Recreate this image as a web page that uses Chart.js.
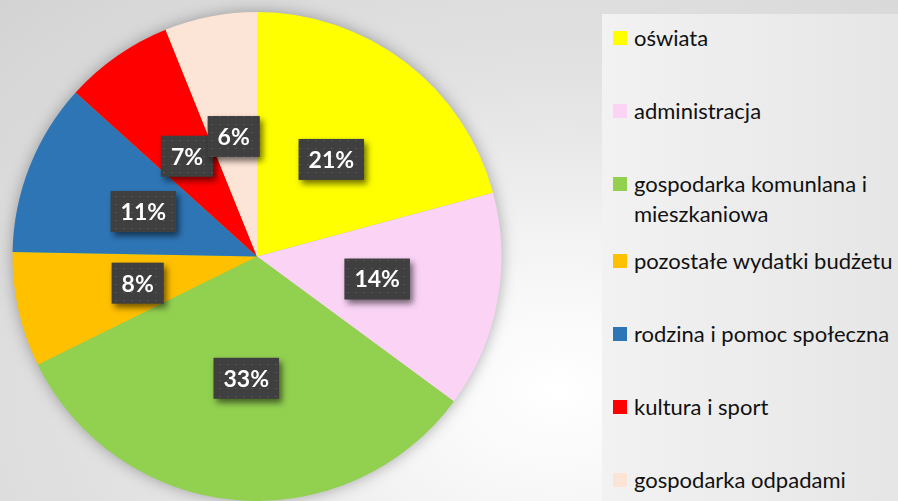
<!DOCTYPE html>
<html>
<head>
<meta charset="utf-8">
<script src="https://cdn.jsdelivr.net/npm/chart.js@4"></script>
<style>
  html, body { margin: 0; padding: 0; }
  body {
    width: 898px; height: 501px; overflow: hidden;
    background: radial-gradient(ellipse at 62% 78%, #ffffff 0%, #f6f6f6 22%, #e3e3e3 55%, #d3d3d3 100%);
  }
  #wrap { position: relative; width: 898px; height: 501px; }
  #myChart { position: absolute; left: 0; top: 0; }
  #panel {
    position: absolute; left: 602px; top: 14px; width: 296px; height: 487px;
    background: linear-gradient(to right, #f2f2f2, #e6e6e6);
  }
  #legend {
    position: absolute; left: 613px; top: 23px; width: 285px;
    font-family: Lato, sans-serif; font-size: 22px; color: #111;
  }
  .item { display: flex; align-items: flex-start; line-height: 30px; }
  .item + .item { margin-top: 43px; }
  .item:nth-child(4) { margin-top: 17px; }
  .box { width: 14px; height: 14px; margin-top: 8px; margin-right: 7px; flex: none; }
  .txt { width: 264px; white-space: normal; }
</style>
</head>
<body>
<div id="wrap">
  <canvas id="myChart" width="898" height="501"></canvas>
  <div id="panel"></div>
  <div id="legend"></div>
</div>
<script>
// dane (udział w %)
const labels = ['oświata', 'administracja', 'gospodarka komunlana i mieszkaniowa',
                'pozostałe wydatki budżetu', 'rodzina i pomoc społeczna',
                'kultura i sport', 'gospodarka odpadami'];
const values = [20.8, 14.3, 32.6, 7.6, 11.4, 7.2, 6.1];
const colors = ['#FFFF00', '#FAD3F5', '#92D050', '#FFC000', '#2E75B6', '#FF0000', '#FCE4D6'];

/**
 * wzór kropek na etykietach
 */
function makePattern(ctx){
    const p = document.createElement('canvas');
    p.width = 8; p.height = 8;
    const pc = p.getContext('2d');
    pc.fillStyle = '#3f3f3f';
    pc.fillRect(0, 0, 8, 8);
    pc.fillStyle = '#555555';
    pc.fillRect(3, 4, 2, 1);
    return ctx.createPattern(p, 'repeat');
}

// cień pod kołem
const pieShadow = {
    id: 'pieShadow',
    beforeDatasetsDraw(chart){
        const arc = chart.getDatasetMeta(0).data[0];
        if (!arc) return;
        const ctx = chart.ctx;
        ctx.save();
        ctx.shadowColor = 'rgba(0,0,0,0.35)';
        ctx.shadowBlur = 16;
        ctx.fillStyle = '#92D050';
        ctx.beginPath();
        ctx.arc(arc.x, arc.y, arc.outerRadius - 1, 0, Math.PI * 2);
        ctx.fill();
        ctx.restore();
    }
};

// etykiety procentowe w ciemnych ramkach
const pctLabels = {
    id: 'pctLabels',
    afterDatasetsDraw(chart){
        const ctx = chart.ctx;
        const meta = chart.getDatasetMeta(0);
        const data = chart.data.datasets[0].data;
        const total = data.reduce((a, b) => a + b, 0);
        const pattern = makePattern(ctx);
        ctx.save();
        ctx.font = 'bold 23px Lato, sans-serif';
        ctx.textAlign = 'center';
        ctx.textBaseline = 'middle';
        meta.data.forEach(function(arc, i){
            const pos = arc.tooltipPosition();
            const txt = Math.round(data[i] / total * 100) + '%';
            const w = ctx.measureText(txt).width + 20;
            const h = 41;
            ctx.save();
            ctx.shadowColor = 'rgba(0,0,0,0.55)';
            ctx.shadowBlur = 6;
            ctx.shadowOffsetX = 3;
            ctx.shadowOffsetY = 4;
            ctx.fillStyle = pattern;
            ctx.fillRect(pos.x - w / 2, pos.y - h / 2, w, h);
            ctx.restore();
            ctx.fillStyle = '#ffffff';
            ctx.fillText(txt, pos.x, pos.y + 1);
        });
        ctx.restore();
    }
};

const canvas = document.getElementById('myChart');
const ctx = canvas.getContext('2d');
const myChart = new Chart(ctx, {
    type: 'pie',
    data: {
        labels: labels,
        datasets: [{
            data: values,
            backgroundColor: colors,
            borderWidth: 0
        }]
    },
    options: {
        responsive: false,
        animation: false,
        layout: { padding: { left: 12, top: 12, right: 396, bottom: 0 } },
        plugins: {
            legend: { display: false },
            tooltip: { enabled: false }
        }
    },
    plugins: [pieShadow, pctLabels]
});

// legenda HTML (zawijanie długich nazw)
const legend = document.getElementById('legend');
labels.forEach(function(l, i){
    const item = document.createElement('div');
    item.className = 'item';
    item.innerHTML = '<span class="box" style="background:' + colors[i] + '"></span><span class="txt">' + l + '</span>';
    legend.appendChild(item);
});
</script>
</body>
</html>
